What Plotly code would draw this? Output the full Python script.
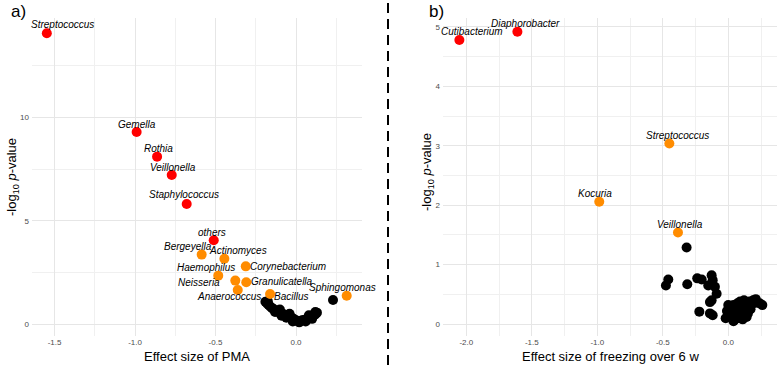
import plotly.graph_objects as go

# ---------------- Panel a: PMA ----------------
a_labels = ["Streptococcus", "Gemella", "Rothia", "Veillonella", "Staphylococcus", "others",
            "Bergeyella", "Actinomyces", "Corynebacterium", "Haemophilus", "Neisseria",
            "Granulicatella", "Anaerococcus", "Bacillus", "Sphingomonas"]
a_x = [-1.548, -0.99, -0.863, -0.772, -0.679, -0.511, -0.586, -0.445, -0.312, -0.483, -0.377,
       -0.309, -0.362, -0.161, 0.315]
a_y = [14.07, 9.29, 8.10, 7.21, 5.81, 4.05, 3.36, 3.16, 2.79, 2.34, 2.10, 2.02, 1.65, 1.45, 1.37]
a_group = ["red", "red", "red", "red", "red", "red", "orange", "orange", "orange", "orange",
           "orange", "orange", "orange", "orange", "orange"]
# label offsets in pixels (dx right, dy up)
a_dx = [16, 0, 1, 1, -3, -2, -14, 14, 42, -12, -36, 36, -9, 21, -4]
a_dy = [9, 8, 8, 8, 9, 8, 8, 8, 0, 8, -2, 1, -7, -2, 8]

a_ns_x = [-0.19, -0.18, -0.17, -0.16, -0.15, -0.14, -0.12, -0.11, -0.10, -0.09, -0.08, -0.07,
          -0.06, -0.05, -0.04, -0.03, -0.02, -0.01, 0.00, 0.01, 0.02, 0.03, 0.04, 0.05, 0.06,
          0.07, 0.08, 0.09, 0.10, 0.11, 0.12, 0.13, 0.23,
          -0.175, -0.13, -0.09, -0.06, -0.02, 0.02, 0.06, 0.10, -0.10, -0.04, 0.08, 0.12]
a_ns_y = [1.08, 1.00, 0.92, 0.85, 0.78, 0.72, 0.65, 0.60, 0.55, 0.52, 0.48, 0.45, 0.42, 0.40,
          0.35, 0.30, 0.28, 0.22, 0.18, 0.15, 0.14, 0.16, 0.18, 0.20, 0.22, 0.26, 0.30, 0.33,
          0.38, 0.42, 0.46, 0.55, 1.16,
          1.10, 0.58, 0.40, 0.30, 0.12, 0.08, 0.12, 0.25, 0.70, 0.50, 0.42, 0.58]

# ---------------- Panel b: freezing ----------------
b_labels = ["Cutibacterium", "Diaphorobacter", "Streptococcus", "Kocuria", "Veillonella"]
b_x = [-2.053, -1.61, -0.45, -0.985, -0.384]
b_y = [4.78, 4.92, 3.04, 2.06, 1.54]
b_group = ["red", "red", "orange", "orange", "orange"]
b_dx = [13, 8, 8, -4, 2]
b_dy = [8, 8, 8, 8, 8]

b_ns_x = [-0.318, -0.458, -0.476, -0.313, -0.237, -0.203, -0.127, -0.119, -0.153, -0.102,
          -0.089, -0.127, -0.14, -0.221, -0.14, -0.119,
          -0.01, 0.0, 0.01, 0.02, 0.03, 0.03, 0.04, 0.05, 0.05, 0.06, 0.06, 0.07, 0.07, 0.08,
          0.08, 0.09, 0.09, 0.10, 0.10, 0.11, 0.11, 0.12, 0.12, 0.13, 0.13, 0.14, 0.14, 0.15,
          0.16, 0.17, 0.18, 0.19, 0.21, 0.22, 0.24, 0.26, 0.04, 0.02, 0.0, -0.02, 0.15, 0.11]
b_ns_y = [1.29, 0.75, 0.65, 0.67, 0.77, 0.75, 0.82, 0.74, 0.65, 0.63, 0.51, 0.40, 0.37, 0.21,
          0.18, 0.15,
          0.22, 0.12, 0.30, 0.18, 0.10, 0.25, 0.32, 0.08, 0.20, 0.15, 0.28, 0.35, 0.10, 0.22,
          0.30, 0.18, 0.38, 0.12, 0.25, 0.32, 0.20, 0.40, 0.15, 0.28, 0.35, 0.22, 0.12, 0.30,
          0.38, 0.25, 0.33, 0.40, 0.42, 0.36, 0.35, 0.32, 0.05, 0.28, 0.32, 0.10, 0.18, 0.08]

a_xticks = [-1.5, -1.0, -0.5, 0.0]
a_xticktext = ["-1.5", "-1.0", "-0.5", "0.0"]
a_yticks = [0, 5, 10]
b_xticks = [-2.0, -1.5, -1.0, -0.5, 0.0]
b_xticktext = ["-2.0", "-1.5", "-1.0", "-0.5", "0.0"]
b_yticks = [0, 1, 2, 3, 4, 5]

COLORS = {"red": "#ff0000", "orange": "#ff8c00"}
MS = 10

fig = go.Figure()

fig.add_trace(go.Scatter(x=a_ns_x, y=a_ns_y, mode="markers", xaxis="x", yaxis="y",
                         marker=dict(color="black", size=MS), showlegend=False, hoverinfo="skip"))
fig.add_trace(go.Scatter(x=a_x, y=a_y, mode="markers", xaxis="x", yaxis="y",
                         marker=dict(color=[COLORS[g] for g in a_group], size=MS),
                         showlegend=False, text=a_labels))
fig.add_trace(go.Scatter(x=b_ns_x, y=b_ns_y, mode="markers", xaxis="x2", yaxis="y2",
                         marker=dict(color="black", size=MS), showlegend=False, hoverinfo="skip"))
fig.add_trace(go.Scatter(x=b_x, y=b_y, mode="markers", xaxis="x2", yaxis="y2",
                         marker=dict(color=[COLORS[g] for g in b_group], size=MS),
                         showlegend=False, text=b_labels))

lab_font = dict(family="Liberation Sans, Arial, sans-serif", size=10, color="black")
annotations = []
for lbl, x, y, dx, dy in zip(a_labels, a_x, a_y, a_dx, a_dy):
    annotations.append(dict(x=x, y=y, xref="x", yref="y", text=f"<i>{lbl}</i>", showarrow=False,
                            xshift=dx, yshift=dy, font=lab_font, xanchor="center", yanchor="middle"))
for lbl, x, y, dx, dy in zip(b_labels, b_x, b_y, b_dx, b_dy):
    annotations.append(dict(x=x, y=y, xref="x2", yref="y2", text=f"<i>{lbl}</i>", showarrow=False,
                            xshift=dx, yshift=dy, font=lab_font, xanchor="center", yanchor="middle"))

W, H = 778, 365
title_font = dict(family="Liberation Sans, Arial, sans-serif", size=13, color="black")
ytitle = "-log<sub>10</sub> <i>p</i>-value"
annotations += [
    dict(x=197 / W, y=1 - 356 / H, xref="paper", yref="paper", text="Effect size of PMA",
         showarrow=False, font=title_font, xanchor="center", yanchor="middle"),
    dict(x=610 / W, y=1 - 356 / H, xref="paper", yref="paper", text="Effect size of freezing over 6 w",
         showarrow=False, font=title_font, xanchor="center", yanchor="middle"),
    dict(x=12 / W, y=1 - 177 / H, xref="paper", yref="paper", text=ytitle, textangle=-90,
         showarrow=False, font=title_font, xanchor="center", yanchor="middle"),
    dict(x=427 / W, y=1 - 172 / H, xref="paper", yref="paper", text=ytitle, textangle=-90,
         showarrow=False, font=title_font, xanchor="center", yanchor="middle"),
    dict(x=18 / W, y=1 - 12 / H, xref="paper", yref="paper", text="a)",
         showarrow=False, font=dict(family="Liberation Sans, Arial, sans-serif", size=17, color="black"),
         xanchor="center", yanchor="middle"),
    dict(x=436 / W, y=1 - 12 / H, xref="paper", yref="paper", text="b)",
         showarrow=False, font=dict(family="Liberation Sans, Arial, sans-serif", size=17, color="black"),
         xanchor="center", yanchor="middle"),
]

tick_font = dict(family="Liberation Sans, Arial, sans-serif", size=8, color="#4d4d4d")
grid_major = "#e6e6e6"
grid_minor = "#f0f0f0"

def ax(rng, domain, tickvals, ticktext=None, minor_dtick=None, anchor=None):
    d = dict(range=rng, domain=domain, tickvals=tickvals, showline=False, zeroline=False,
             showgrid=True, gridcolor=grid_major, gridwidth=1, tickfont=tick_font, ticks="",
             anchor=anchor,
             minor=dict(showgrid=True, gridcolor=grid_minor, gridwidth=1, dtick=minor_dtick,
                        tick0=0))
    if ticktext is not None:
        d["ticktext"] = ticktext
    return d

ydom = [(H - 336) / H, (H - 18) / H]
fig.update_layout(
    width=W, height=H,
    margin=dict(l=0, r=0, t=0, b=0),
    paper_bgcolor="white", plot_bgcolor="white",
    xaxis=ax([-1.64, 0.41], [32 / W, 362 / W], a_xticks, a_xticktext, 0.25, "y"),
    yaxis=ax([-0.58, 14.81], ydom, a_yticks, None, 2.5, "x"),
    xaxis2=ax([-2.178, 0.372], [443 / W, 777 / W], b_xticks, b_xticktext, 0.25, "y2"),
    yaxis2=ax([-0.2, 5.15], ydom, b_yticks, None, 0.5, "x2"),
    annotations=annotations,
    shapes=[dict(type="line", xref="paper", yref="paper", x0=388 / W, x1=388 / W, y0=0, y1=1,
                 line=dict(color="black", width=2, dash="10px,6px"))],
)
fig.update_yaxes(ticklabelstandoff=2)

fig.write_html("out.html", config={"displayModeBar": False},
               post_script="document.body.style.margin='0';document.body.style.overflow='hidden';")
